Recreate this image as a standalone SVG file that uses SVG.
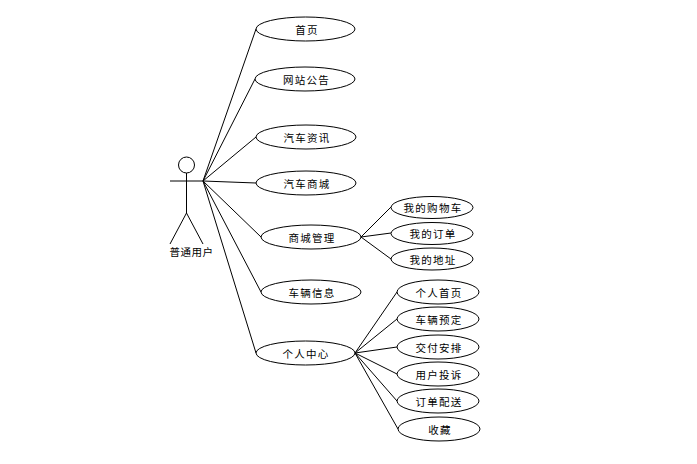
<svg xmlns="http://www.w3.org/2000/svg" width="697" height="464" viewBox="0 0 697 464">
<style>
.u{fill:#fff;stroke:#000;stroke-width:1}
.l{fill:none;stroke:#000;stroke-width:1}
text{font-family:"Noto Sans CJK SC","Liberation Sans",sans-serif;font-size:10.500px;letter-spacing:1.300px;text-anchor:middle;fill:#000}
.s{letter-spacing:.5px}
</style>
<rect width="697" height="464" fill="#fff"/>
<g id="connectors" class="l">
<path d="M203 181L256 29M203 181L255 79M203 181L256 137M203 181L256 183M203 181L261 237M203 181L261 292M203 181L256 353"/>
<path d="M361 237L391 207M361 237L391 233M361 237L391 259"/>
<path d="M355 353L397 292M355 353L397 319M355 353L397 347M355 353L397 374M355 353L397 401M355 353L398 429"/>
</g>
<g id="actor">
<circle class="l" cx="186.500" cy="165" r="8"/>
<path class="l" d="M170 181H203M186.500 173V213M186.500 213L170 244M186.500 213L203 244"/>
<text class="s" x="191.500" y="256">普通用户</text>
</g>
<g id="n1"><ellipse class="u" cx="305.500" cy="29" rx="49.500" ry="12"/><text x="307" y="33.500">首页</text></g>
<g id="n2"><ellipse class="u" cx="305" cy="79" rx="50" ry="12"/><text x="306.500" y="83.500">网站公告</text></g>
<g id="n3"><ellipse class="u" cx="306" cy="137" rx="50" ry="12"/><text x="307" y="141.500">汽车资讯</text></g>
<g id="n4"><ellipse class="u" cx="306" cy="183" rx="50" ry="12"/><text x="307" y="187.500">汽车商城</text></g>
<g id="n5"><ellipse class="u" cx="311" cy="237" rx="50" ry="12"/><text x="312" y="241.500">商城管理</text></g>
<g id="n6"><ellipse class="u" cx="311" cy="292" rx="50" ry="12"/><text x="312" y="296.500">车辆信息</text></g>
<g id="n7"><ellipse class="u" cx="305.500" cy="353" rx="49.500" ry="12"/><text x="306" y="357.500">个人中心</text></g>
<g id="n8"><ellipse class="u" cx="432" cy="207.500" rx="41" ry="11"/><text x="433" y="211.500">我的购物车</text></g>
<g id="n9"><ellipse class="u" cx="432" cy="233.500" rx="41" ry="11"/><text x="433" y="237.500">我的订单</text></g>
<g id="n10"><ellipse class="u" cx="432" cy="259" rx="41" ry="11"/><text x="433" y="263.500">我的地址</text></g>
<g id="n11"><ellipse class="u" cx="438" cy="292" rx="41" ry="12"/><text x="439" y="296.500">个人首页</text></g>
<g id="n12"><ellipse class="u" cx="438" cy="319" rx="41" ry="12"/><text x="439" y="323.500">车辆预定</text></g>
<g id="n13"><ellipse class="u" cx="438" cy="347" rx="41" ry="12"/><text x="439" y="351.500">交付安排</text></g>
<g id="n14"><ellipse class="u" cx="438" cy="374" rx="41" ry="12"/><text x="439" y="378.500">用户投诉</text></g>
<g id="n15"><ellipse class="u" cx="438" cy="401" rx="41" ry="12"/><text x="439" y="405.500">订单配送</text></g>
<g id="n16"><ellipse class="u" cx="439" cy="429" rx="41" ry="12"/><text x="440" y="433.500">收藏</text></g>
</svg>
